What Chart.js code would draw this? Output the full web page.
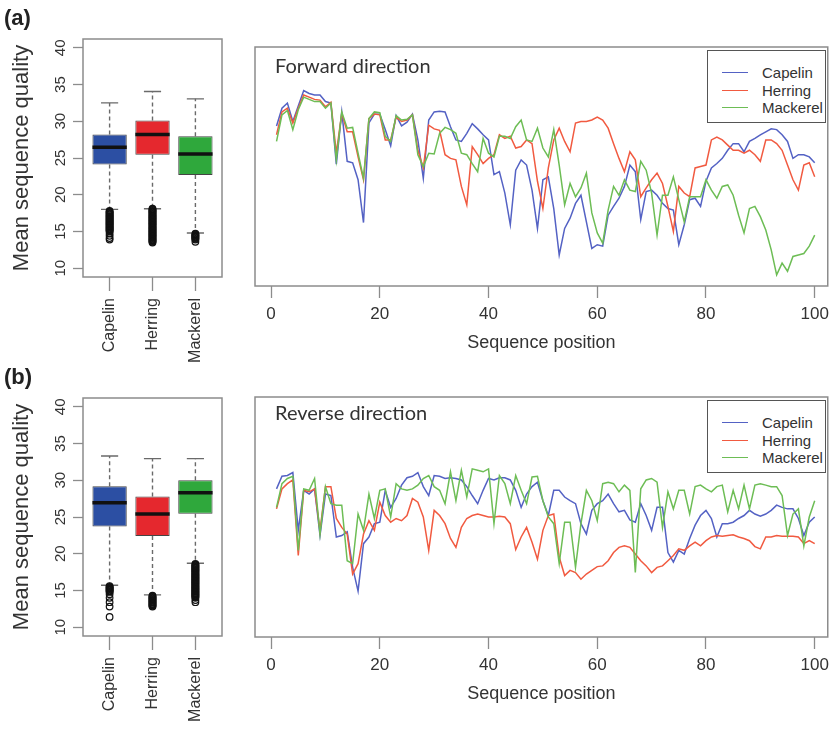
<!DOCTYPE html>
<html>
<head>
<meta charset="utf-8">
<script src="https://cdn.jsdelivr.net/npm/chart.js@4.4.1/dist/chart.umd.min.js"></script>
<style>
  body { margin: 0; background: #fff; width: 835px; height: 733px; position: relative; overflow: hidden; }
  canvas { position: absolute; }
  .tag { position: absolute; left: 4px; font: bold 22px "Liberation Sans", Arial, sans-serif; color: #222; z-index: 2; }
  .ttl { position: absolute; left: 275px; font: 20px Lato, sans-serif; line-height: 24px; color: #333; z-index: 2; }
  .legend { position: absolute; left: 707px; width: 119px; height: 73px; box-sizing: border-box; border: 1.5px solid #555; background: #fff; z-index: 2; }
  .legend .row { position: absolute; left: 0; height: 17.5px; line-height: 17.5px; font: 15px "Liberation Sans", Arial, sans-serif; color: #333; }
  .legend .sw { position: absolute; left: 14px; top: 8px; width: 26px; height: 0; border-top: 1.5px solid; }
  .legend .lb { position: absolute; left: 54px; white-space: nowrap; }
</style>
</head>
<body>
<div class="tag" style="top:5px">(a)</div>
<canvas id="boxFwd" width="240" height="370" style="left:0;top:0"></canvas>
<canvas id="lineFwd" width="595" height="360" style="left:240px;top:0"></canvas>
<div class="ttl" style="top:53px">Forward direction</div>
<div class="legend" id="legFwd" style="top:50px"></div>

<div class="tag" style="top:364px">(b)</div>
<canvas id="boxRev" width="240" height="363" style="left:0;top:370px"></canvas>
<canvas id="lineRev" width="595" height="363" style="left:240px;top:370px"></canvas>
<div class="ttl" style="top:400px">Reverse direction</div>
<div class="legend" id="legRev" style="top:400px"></div>

<script>
const categories = ['Capelin', 'Herring', 'Mackerel'];
const boxColors = ['#2c4fa3', '#e5282e', '#2fa83c'];
const lineColors = ['#5462c4', '#f15a40', '#6dbd55'];
const qualityTicks = [10, 15, 20, 25, 30, 35, 40];
const positionTicks = [0, 20, 40, 60, 80, 100];

// boxplot statistics, forward reads (Capelin, Herring, Mackerel)
const fwdQ1 = [24.1, 25.45, 22.7];
const fwdMedian = [26.45, 28.2, 25.55];
const fwdQ3 = [28.2, 30.1, 27.95];
const fwdLow = [18.0, 18.1, 14.8];
const fwdHigh = [32.5, 34.05, 33.05];
const fwdOutCapelin = [17.8, 17.7, 17.6, 17.5, 17.4, 17.3, 17.2, 17.1, 17.0, 16.9, 16.8, 16.7, 16.6, 16.5, 16.4, 16.3,
  16.2, 16.1, 16.0, 15.9, 15.8, 15.7, 15.6, 15.5, 15.4, 15.3, 15.2, 15.1, 15.0, 14.7, 14.4, 14.1, 13.9];
const fwdOutHerring = [18.1, 18.0, 17.9, 17.8, 17.7, 17.6, 17.5, 17.4, 17.3, 17.2, 17.1, 17.0, 16.9, 16.8, 16.7, 16.6,
  16.5, 16.4, 16.3, 16.2, 16.1, 16.0, 15.9, 15.8, 15.7, 15.6, 15.5, 15.4, 15.3, 15.2, 15.1, 15.0, 14.9, 14.8, 14.7,
  14.6, 14.5, 14.4, 14.3, 14.2, 14.1, 14.0, 13.9, 13.8, 13.7, 13.6, 13.5];
const fwdOutMackerel = [14.7, 14.6, 14.5, 14.4, 14.3, 14.2, 14.1, 14.0, 13.9, 13.6];

// boxplot statistics, reverse reads
const revQ1 = [23.7, 22.4, 25.45];
const revMedian = [26.95, 25.4, 28.3];
const revQ3 = [29.2, 27.8, 30.0];
const revLow = [15.7, 14.4, 18.7];
const revHigh = [33.3, 32.95, 32.95];
const revOutCapelin = [15.6, 15.5, 15.4, 15.3, 15.2, 15.1, 15.0, 14.9, 14.8, 14.5, 14.0, 13.4, 12.8, 11.4];
const revOutHerring = [14.3, 14.2, 14.1, 14.0, 13.9, 13.8, 13.7, 13.6, 13.5, 13.4, 13.3, 13.2, 13.1, 13.0, 12.9, 12.8];
const revOutMackerel = [18.6, 18.5, 18.4, 18.3, 18.2, 18.1, 18.0, 17.9, 17.8, 17.7, 17.6, 17.5, 17.4, 17.3, 17.2, 17.1,
  17.0, 16.9, 16.8, 16.7, 16.6, 16.5, 16.4, 16.3, 16.2, 16.1, 16.0, 15.9, 15.8, 15.7, 15.6, 15.5, 15.4, 15.3, 15.2,
  15.1, 15.0, 14.9, 14.8, 14.7, 14.6, 14.5, 14.4, 14.3, 14.2, 14.1, 14.0, 13.7, 13.4];

// mean quality per sequence position 1..100, forward
const capelinFwd = [30.5,32.9,33.6,31.1,33.2,35.3,34.9,34.7,34.7,33.8, 33.6,25.3,32.4,25.7,25.5,23.2,17.4,30.9,32.1,32.1,
  30.0,27.8,31.9,30.5,31.0,32.1,28.6,23.4,31.3,32.4, 32.5,32.4,30.4,28.6,28.4,29.5,30.8,30.1,29.3,28.6,
  23.9,24.3,21.4,17.1,24.5,25.9,25.2,21.8,16.6,23.2, 23.6,19.3,13.0,16.6,18.0,20.0,21.1,17.5,13.9,14.4,
  14.2,18.4,19.6,20.7,22.3,25.2,24.3,17.8,21.6,21.8, 21.1,20.0,19.3,19.1,14.4,17.1,20.5,20.7,19.6,23.0,
  24.8,25.4,26.1,27.2,28.1,28.1,27.0,28.4,28.8,29.3, 29.7,30.1,30.0,29.3,28.4,26.1,26.6,26.6,26.3,25.5];
const herringFwd = [29.3,32.4,32.9,30.9,32.9,34.7,34.4,34.1,34.0,33.1, 33.7,26.8,32.2,29.7,29.7,26.3,23.2,31.5,32.1,32.0,
  28.6,28.6,31.7,31.1,31.3,32.0,27.2,24.8,30.6,30.1, 29.9,26.6,26.1,25.9,22.3,19.8,27.7,26.6,25.4,26.1,
  26.6,29.3,28.8,29.1,27.5,27.7,28.6,28.1,23.0,19.3, 24.8,28.6,30.2,28.4,27.0,30.9,31.1,31.1,31.3,31.7,
  31.3,30.2,28.1,26.1,24.3,27.0,25.9,20.9,22.1,23.2, 24.1,22.7,19.6,16.2,22.3,21.4,20.9,24.8,25.0,25.2,
  28.6,29.0,28.6,27.9,27.2,27.2,26.8,27.2,26.6,25.7, 28.6,28.6,28.1,27.2,25.2,23.2,21.8,25.2,25.5,23.6];
const mackerelFwd = [28.4,32.0,32.6,30.0,32.7,34.4,34.1,33.8,33.8,32.9, 33.6,25.9,32.4,30.2,30.3,26.8,23.4,31.5,32.4,32.3,
  29.1,28.4,31.9,31.3,31.4,32.0,26.6,25.0,26.8,26.7, 29.5,30.3,30.0,29.5,26.8,26.6,25.4,24.3,28.8,26.8,
  26.3,29.1,29.1,28.8,30.4,31.3,28.6,28.4,30.2,27.5, 26.3,30.0,25.2,19.8,22.7,20.9,22.1,24.1,18.7,16.0,
  14.6,19.1,22.3,21.1,23.2,21.8,21.6,25.7,24.5,21.4, 15.7,21.1,21.1,23.6,20.5,17.5,20.9,20.9,20.9,23.2,
  21.8,20.7,22.3,22.5,21.1,18.4,16.0,19.3,19.6,18.2, 16.4,13.7,10.3,11.9,10.8,12.8,13.0,13.2,14.2,15.7];

// mean quality per sequence position 1..100, reverse
const capelinRev = [28.8,30.5,30.6,31.0,23.2,28.6,28.1,28.8,22.5,28.1, 27.9,22.3,22.5,23.0,18.2,15.0,21.4,22.3,24.1,24.3,
  28.6,26.3,27.5,29.3,30.3,30.5,31.0,29.1,27.9,30.6, 30.5,30.2,30.3,30.2,30.0,29.1,27.9,26.8,28.6,30.2,
  30.0,30.3,30.3,30.0,28.6,26.3,28.1,29.1,29.7,27.2, 25.2,28.6,28.6,27.7,27.2,26.8,24.1,22.7,25.9,26.8,
  27.2,28.1,26.8,25.7,25.9,24.6,24.3,26.8,25.2,23.2, 26.3,26.3,20.2,18.9,20.5,20.0,22.1,23.9,25.2,25.9,
  24.8,22.3,24.1,24.1,24.3,24.8,25.2,25.9,25.4,25.1, 25.4,25.9,26.6,26.3,26.1,26.1,24.8,22.5,24.3,25.0];
const herringRev = [26.1,28.8,29.5,30.0,19.8,28.6,28.4,28.8,23.2,29.1, 29.1,24.8,23.6,22.7,17.3,18.7,22.7,24.5,23.2,27.0,
  25.2,24.3,24.8,24.5,25.2,27.5,27.0,25.0,20.5,25.9, 25.2,24.1,22.1,20.9,23.6,24.8,25.2,25.4,25.2,25.0,
  25.0,25.1,25.0,24.1,20.6,22.3,23.6,21.6,19.3,23.2, 25.2,25.4,19.6,17.1,17.8,17.5,16.6,17.3,17.8,18.3,
  18.4,19.1,20.2,20.9,21.1,20.9,20.0,19.1,18.4,17.5, 18.2,18.4,19.1,19.8,20.7,20.5,21.1,21.6,21.1,21.8,
  22.3,22.5,22.4,22.5,22.6,22.3,22.1,21.8,21.0,20.7, 22.3,22.3,22.5,22.4,22.4,22.4,22.3,21.4,21.8,21.4];
const mackerelRev = [26.3,29.5,30.2,30.5,20.5,28.8,28.6,30.2,22.7,29.1, 26.8,26.6,26.6,19.1,18.7,25.4,23.2,28.1,24.8,28.6,
  28.8,25.0,29.5,28.8,28.6,28.8,29.3,30.2,30.6,29.1, 28.6,26.8,31.1,27.2,31.3,27.7,31.5,31.3,31.1,31.5,
  24.1,30.6,29.5,26.8,30.6,28.6,26.8,30.4,30.5,27.2, 25.0,24.1,18.7,24.3,24.3,18.2,24.1,28.6,27.2,24.5,
  29.5,29.7,29.5,28.4,29.3,28.6,17.5,28.8,30.0,30.2, 29.7,23.6,28.4,26.1,28.6,28.6,25.4,29.1,29.3,28.8,
  28.4,29.1,29.3,25.7,28.6,26.1,29.3,26.1,29.3,29.5, 29.3,29.1,29.1,27.9,22.5,25.4,26.1,21.1,25.0,27.2];

const family = '"Liberation Sans", Arial, Helvetica, sans-serif';
const axisGray = '#8c8c8c';
const textColor = '#333';

// grey box round the plot region, as R's box()
const framePlugin = {
    id: 'frame',
    afterDraw(chart) {
        const a = chart.chartArea, ctx = chart.ctx;
        ctx.save();
        ctx.strokeStyle = axisGray;
        ctx.lineWidth = 1.5;
        ctx.strokeRect(a.left, a.top, a.right - a.left, a.bottom - a.top);
        ctx.restore();
    }
};

// whiskers, staples and median bars for the boxplots
function whiskerPlugin(s) {
    return {
        id: 'whiskers',
        beforeDatasetsDraw(chart) {
            const {ctx, scales: {x, y}} = chart;
            ctx.save();
            ctx.strokeStyle = '#6a6a6a';
            ctx.lineWidth = 1.4;
            s.median.forEach((m, i) => {
                const cx = x.getPixelForValue(i + 1);
                const staple = x.getPixelForValue(i + 1.2) - cx;
                ctx.setLineDash([4, 3]);
                ctx.beginPath();
                ctx.moveTo(cx, y.getPixelForValue(s.q3[i]));
                ctx.lineTo(cx, y.getPixelForValue(s.high[i]));
                ctx.moveTo(cx, y.getPixelForValue(s.q1[i]));
                ctx.lineTo(cx, y.getPixelForValue(s.low[i]));
                ctx.stroke();
                ctx.setLineDash([]);
                ctx.beginPath();
                [s.high[i], s.low[i]].forEach(v => {
                    const py = y.getPixelForValue(v);
                    ctx.moveTo(cx - staple, py);
                    ctx.lineTo(cx + staple, py);
                });
                ctx.stroke();
            });
            ctx.restore();
        },
        afterDatasetsDraw(chart) {
            const {ctx, scales: {x, y}} = chart;
            ctx.save();
            ctx.strokeStyle = '#111';
            ctx.lineWidth = 3.5;
            s.median.forEach((m, i) => {
                const py = y.getPixelForValue(m);
                ctx.beginPath();
                ctx.moveTo(x.getPixelForValue(i + 0.6), py);
                ctx.lineTo(x.getPixelForValue(i + 1.4), py);
                ctx.stroke();
            });
            ctx.restore();
        }
    };
}

function boxChart(id, s, outliers, padTop, xHeight) {
    const outlierPoints = [];
    outliers.forEach((vals, i) => vals.forEach(v => outlierPoints.push({x: i + 1, y: v})));
    return new Chart(document.getElementById(id), {
        type: 'bar',
        data: {
            datasets: [
                {
                    type: 'scatter',
                    data: outlierPoints,
                    pointRadius: 3.3,
                    borderWidth: 1.2,
                    borderColor: '#111',
                    backgroundColor: 'rgba(0,0,0,0)'
                },
                {
                    type: 'bar',
                    data: categories.map((c, i) => ({x: i + 1, y: [s.q1[i], s.q3[i]]})),
                    backgroundColor: boxColors,
                    borderColor: '#444',
                    borderWidth: 1,
                    borderSkipped: false,
                    barPercentage: 0.8,
                    categoryPercentage: 1
                }
            ]
        },
        options: {
            responsive: false,
            animation: false,
            events: [],
            layout: { padding: { top: padTop, right: 18, left: 0, bottom: 0 } },
            plugins: { legend: { display: false }, tooltip: { enabled: false } },
            scales: {
                x: {
                    type: 'linear',
                    min: 0.38,
                    max: 3.62,
                    offset: false,
                    afterBuildTicks: sc => { sc.ticks = categories.map((c, i) => ({value: i + 1})); },
                    afterFit: sc => { sc.height = xHeight; },
                    grid: { drawOnChartArea: false, offset: false, tickLength: 14, tickColor: axisGray, tickWidth: 1.3 },
                    border: { display: false },
                    ticks: {
                        callback: v => categories[v - 1],
                        minRotation: 90, maxRotation: 90, autoSkip: false, padding: 7,
                        color: textColor, font: { family: family, size: 16 }
                    }
                },
                y: {
                    min: 8.8,
                    max: 41.2,
                    afterBuildTicks: sc => { sc.ticks = qualityTicks.map(v => ({value: v})); },
                    afterFit: sc => { sc.width = 83; },
                    grid: { drawOnChartArea: false, tickLength: 10, tickColor: axisGray, tickWidth: 1.3 },
                    border: { display: false },
                    ticks: {
                        minRotation: 90, maxRotation: 90, crossAlign: 'center', autoSkip: false, padding: 4,
                        color: textColor, font: { family: family, size: 15 }
                    },
                    title: {
                        display: true, text: 'Mean sequence quality', color: textColor,
                        font: { family: family, size: 22 }, padding: { top: 9, bottom: 0 }
                    }
                }
            }
        },
        plugins: [framePlugin, whiskerPlugin(s)]
    });
}

function lineChart(id, series, padTop, padBottom) {
    return new Chart(document.getElementById(id), {
        type: 'line',
        data: {
            datasets: series.map((vals, k) => ({
                label: categories[k],
                data: vals.map((v, i) => ({x: i + 1, y: v})),
                borderColor: lineColors[k],
                borderWidth: 1.5,
                pointRadius: 0,
                tension: 0,
                fill: false,
                order: 3 - k
            }))
        },
        options: {
            responsive: false,
            animation: false,
            events: [],
            layout: { padding: { top: padTop, right: 5, left: 15, bottom: padBottom } },
            plugins: { legend: { display: false }, tooltip: { enabled: false } },
            scales: {
                x: {
                    type: 'linear',
                    min: -2.96,
                    max: 102.4,
                    afterBuildTicks: sc => { sc.ticks = positionTicks.map(v => ({value: v})); },
                    afterFit: sc => { sc.height = 74; },
                    grid: { drawOnChartArea: false, tickLength: 12, tickColor: axisGray, tickWidth: 1.3 },
                    border: { display: false },
                    ticks: { autoSkip: false, maxRotation: 0, padding: 6, color: textColor, font: { family: family, size: 17 } },
                    title: {
                        display: true, text: 'Sequence position', color: textColor,
                        font: { family: family, size: 18 }, padding: { top: 0, bottom: 6 }
                    }
                },
                y: { display: false, min: 8.8, max: 41.2 }
            }
        },
        plugins: [framePlugin]
    });
}

function buildLegend(id) {
    const box = document.getElementById(id);
    categories.forEach((c, i) => {
        const row = document.createElement('div');
        row.className = 'row';
        row.style.top = (13 + i * 17.5) + 'px';
        row.style.width = '100%';
        row.innerHTML = '<span class="sw" style="border-color:' + lineColors[i] + '"></span><span class="lb">' + c + '</span>';
        box.appendChild(row);
    });
}

boxChart('boxFwd',
    { q1: fwdQ1, median: fwdMedian, q3: fwdQ3, low: fwdLow, high: fwdHigh },
    [fwdOutCapelin, fwdOutHerring, fwdOutMackerel], 39, 93);
boxChart('boxRev',
    { q1: revQ1, median: revMedian, q3: revQ3, low: revLow, high: revHigh },
    [revOutCapelin, revOutHerring, revOutMackerel], 28, 97);
lineChart('lineFwd', [capelinFwd, herringFwd, mackerelFwd], 47, 0);
lineChart('lineRev', [capelinRev, herringRev, mackerelRev], 27, 22);
buildLegend('legFwd');
buildLegend('legRev');
</script>
</body>
</html>
